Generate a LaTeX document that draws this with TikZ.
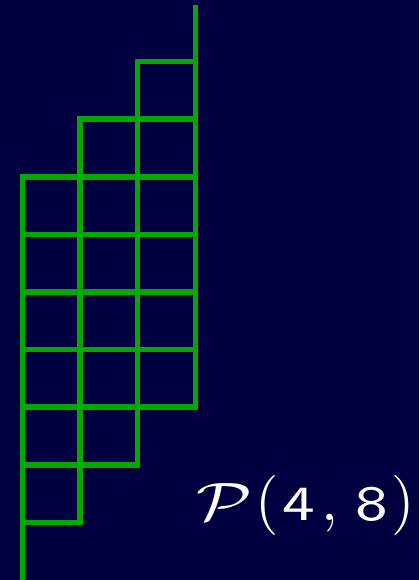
\documentclass[tikz,border=0pt]{standalone}
\usepackage{xcolor}
\usepackage{tikz}

\definecolor{navybg}{RGB}{0,0,64}
\definecolor{pathgreen}{RGB}{0,168,0}
\newcommand{\pathdigit}[1]{\mbox{\scalebox{1.25}[1]{\fontsize{8.2}{9}\selectfont\sffamily #1}}}

\begin{document}
\begin{tikzpicture}[x=57.6pt, y=57.6pt,
    cell/.style={draw=pathgreen, line width=5.5pt}]
  % Background
  \fill[navybg] (-0.391,0) rectangle (6.884,10.069);
  \useasboundingbox (-0.391,0) rectangle (6.884,10.069);

  % Columns of cells
  \foreach \i in {0,1,2}
    \foreach \j in {1,...,6}
      \draw[cell] (\i,\i+\j) rectangle ++(1,1);

  % Tails
  \coordinate (start) at (0,0);
  \coordinate (first) at (0,1);
  \coordinate (last) at (3,9);
  \coordinate (end) at (3,9.99);
  \draw[cell] (start) -- (first);
  \draw[cell] (last) -- (end);

  % Label
  \node[text=white, inner sep=0pt, scale=6] (label) at (4.91,1.293)
    {$\scalebox{1.2}[0.9]{$\mathcal{P}$}\mkern1mu(\mkern1mu\pathdigit{4}\mkern2mu,\mkern2mu\pathdigit{8}\mkern1mu)$};
\end{tikzpicture}
\end{document}
